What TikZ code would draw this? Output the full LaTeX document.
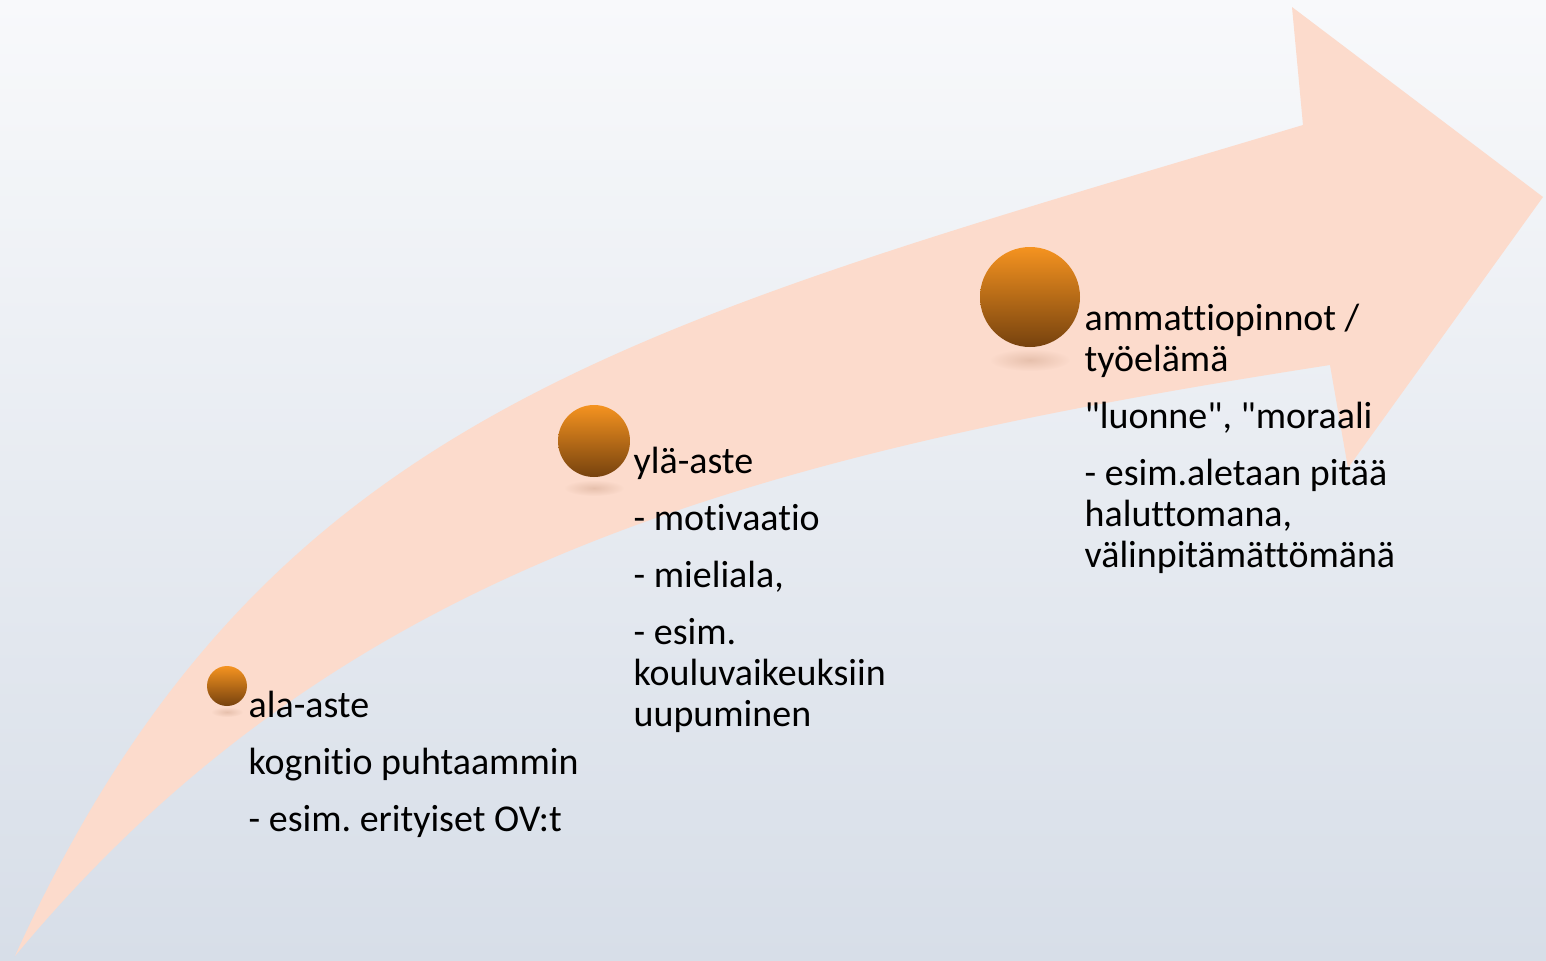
\documentclass[tikz,border=0pt]{standalone}
\usepackage{fontspec}
\setmainfont{Carlito}[Ligatures={TeXOff,NoCommon}]
\usetikzlibrary{fadings}

\definecolor{SkyTop}{RGB}{248,249,251}
\definecolor{SkyMid}{RGB}{239,241,246}
\definecolor{SkyBottom}{RGB}{215,222,232}
\definecolor{PeachBand}{RGB}{252,219,204}
\definecolor{OrangeTop}{RGB}{245,147,32}
\definecolor{OrangeMid}{RGB}{214,120,26}
\definecolor{OrangeBottom}{RGB}{118,66,14}
\definecolor{ShadowBrown}{RGB}{205,160,135}

\tikzfading[name=SoftShadow, inner color=transparent!55, outer color=transparent!100]
\newcommand\StageFont{\fontsize{10.8pt}{11.67pt}\selectfont}
\frenchspacing

\begin{document}
\begin{tikzpicture}
[
Background/.style={top color=SkyTop, middle color=SkyMid, bottom color=SkyBottom},
Band/.style={fill=PeachBand, draw=none},
Ball/.style={circle, inner sep=0pt, draw=none, top color=OrangeTop, middle color=OrangeMid, bottom color=OrangeBottom},
Shadow/.style={fill=ShadowBrown, path fading=SoftShadow},
Label/.style={anchor=north west, align=left, inner sep=0pt, font=\StageFont, text=black},
]

\useasboundingbox (0,0) rectangle (15.46,9.6);
\shade[Background] (0,0) rectangle (15.46,9.6);

% curved arrow
\fill[Band] (0.15,0.04) .. controls (2.62,5.49) and (6.32,6.34) .. (13.03,8.35)
  -- (12.92,9.53) -- (15.43,7.63) -- (13.48,4.92) -- (13.30,5.95)
  .. controls (7.37,5.03) and (3.35,3.89) .. (0.15,0.04) -- cycle;

% shadows under the balls
\fill[Shadow] (2.27,2.48) ellipse (0.16 and 0.05);
\fill[Shadow] (5.94,4.72) ellipse (0.30 and 0.08);
\fill[Shadow] (10.30,6.00) ellipse (0.40 and 0.11);

% balls
\node[Ball, minimum size=0.40cm] (ala) at (2.27,2.74) {};
\node[Ball, minimum size=0.72cm] (yla) at (5.94,5.19) {};
\node[Ball, minimum size=1.00cm] (ammatti) at (10.30,6.63) {};

% texts
\node[Label] (alaText) at (2.48,2.717) {\strut ala-aste\\[0.16cm]
  kognitio puhtaammin\\[0.16cm]
  - esim. erityiset OV:t};
\node[Label] (ylaText) at (6.33,5.157) {\strut ylä-aste\\[0.16cm]
  - motivaatio\\[0.16cm]
  - mieliala,\\[0.16cm]
  - esim.\\ kouluvaikeuksiin\\ uupuminen};
\node[Label] (ammattiText) at (10.84,6.587) {\strut ammattiopinnot /\\ työelämä\\[0.16cm]
  "luonne", "moraali\\[0.16cm]
  - esim.aletaan pitää\\ haluttomana,\\ välinpitämättömänä};

\end{tikzpicture}
\end{document}
